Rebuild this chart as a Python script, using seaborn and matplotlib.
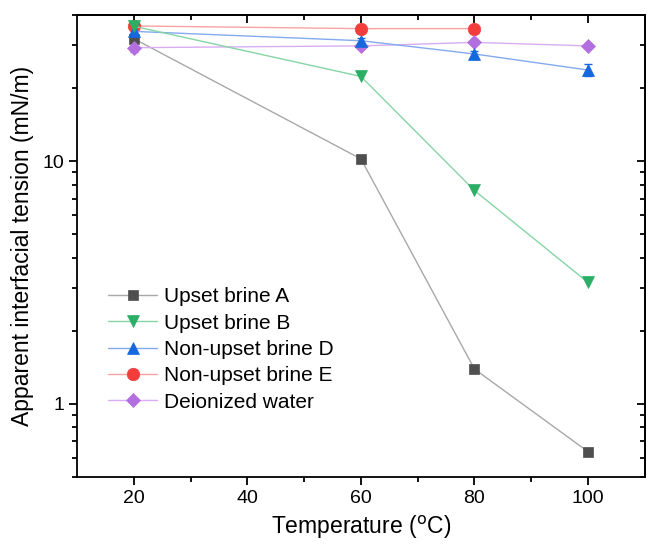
import numpy as np
import pandas as pd
import seaborn as sns
import matplotlib.pyplot as plt
from matplotlib.ticker import LogLocator, NullFormatter, FixedLocator, FixedFormatter

# data
temps = [20, 60, 80, 100]
upset_a = [31.9, 10.2, 1.39, 0.635]
upset_b = [35.9, 22.3, 7.56, 3.16]
nonupset_d = [34.2, 31.3, 27.6, 23.7]
nonupset_d_err = [0.8, 0.8, 0.9, 1.4]
nonupset_e = [36.0, 35.1, 35.1]
dw = [29.3, 29.8, 30.8, 29.8]
dw_err = [1.3, 0.6, 0.5, 0.4]

labels = ['Upset brine A', 'Upset brine B', 'Non-upset brine D', 'Non-upset brine E', 'Deionized water']
xticks = [20, 40, 60, 80, 100]
xminor = [30, 50, 70, 90]

sns.set_style("ticks")
plt.rcParams['font.family'] = ['Liberation Sans', 'DejaVu Sans']
plt.rcParams['text.color'] = 'black'
plt.rcParams['axes.labelcolor'] = 'black'

fig = plt.figure(figsize=(6.48, 5.5), dpi=100)
ax = fig.add_axes([0.119, 0.133, 0.876, 0.840])

# x, y, err, marker, marker colour, line colour, marker size, zorder
series = [
    (temps, upset_a, None, 's', '#4f4f4f', '#a8a8a8', 7, 3),
    (temps, upset_b, None, 'v', '#2bae66', '#86d5a5', 9, 5),
    (temps, nonupset_d, nonupset_d_err, '^', '#1668de', '#84aaee', 9, 4),
    (temps[:3], nonupset_e, None, 'o', '#f33d3d', '#f7a3a3', 9, 3),
    (temps, dw, dw_err, 'D', '#b36ee0', '#d9adf2', 7.5, 3),
]

for (x, y, err, mk, mcol, lcol, ms, z), lab in zip(series, labels):
    df = pd.DataFrame({'T': x, 'IFT': y})
    if err is not None:
        ax.errorbar(x, y, yerr=err, fmt='none', ecolor=mcol, elinewidth=1, capsize=3, capthick=1, zorder=2)
    sns.lineplot(data=df, x='T', y='IFT', ax=ax, color=lcol, lw=1, marker=mk,
                 markersize=ms, markerfacecolor=mcol, markeredgecolor=mcol,
                 markeredgewidth=0.5, label=lab, zorder=z)

ax.set_yscale('log')
ax.set_xlim(10, 110)
ax.set_ylim(0.5, 40)

ax.xaxis.set_major_locator(FixedLocator(xticks))
ax.xaxis.set_minor_locator(FixedLocator(xminor))
ax.yaxis.set_major_locator(FixedLocator([1, 10]))
ax.yaxis.set_major_formatter(FixedFormatter(['1', '10']))
ax.yaxis.set_minor_locator(LogLocator(base=10, subs=np.arange(2, 10)))
ax.yaxis.set_minor_formatter(NullFormatter())

for side in ['top', 'right', 'left', 'bottom']:
    ax.spines[side].set_visible(True)
    ax.spines[side].set_linewidth(1.3)
    ax.spines[side].set_color('black')

ax.tick_params(which='major', direction='out', length=6, width=1.3, labelsize=14, colors='black')
ax.tick_params(which='minor', direction='out', length=3.5, width=1.3, colors='black')

# mirrored ticks on top and right, pointing inward
secx = ax.secondary_xaxis('top')
secx.xaxis.set_major_locator(FixedLocator(xticks))
secx.xaxis.set_minor_locator(FixedLocator(xminor))
secx.tick_params(which='major', direction='in', length=6, width=1.3, labeltop=False, colors='black')
secx.tick_params(which='minor', direction='in', length=3.5, width=1.3, colors='black')
secx.spines['top'].set_linewidth(1.3)
secx.spines['top'].set_color('black')

secy = ax.secondary_yaxis('right')
secy.yaxis.set_major_locator(FixedLocator([1, 10]))
secy.yaxis.set_minor_locator(LogLocator(base=10, subs=np.arange(2, 10)))
secy.tick_params(which='major', direction='in', length=6, width=1.3, labelright=False, colors='black')
secy.tick_params(which='minor', direction='in', length=3.5, width=1.3, labelright=False, colors='black')
secy.spines['right'].set_linewidth(1.3)
secy.spines['right'].set_color('black')

ax.set_xlabel('Temperature ($^{\\mathrm{o}}$C)', fontsize=16.5, labelpad=5)
ax.set_ylabel('Apparent interfacial tension (mN/m)', fontsize=16.5, labelpad=6)
ax.grid(False)

leg = ax.legend(loc='upper left', bbox_to_anchor=(0.055, 0.41), frameon=False,
                fontsize=15, labelspacing=0.35, handlelength=2.35, handletextpad=0.3,
                borderaxespad=0, borderpad=0)

fig.savefig('out.png', dpi=100)
